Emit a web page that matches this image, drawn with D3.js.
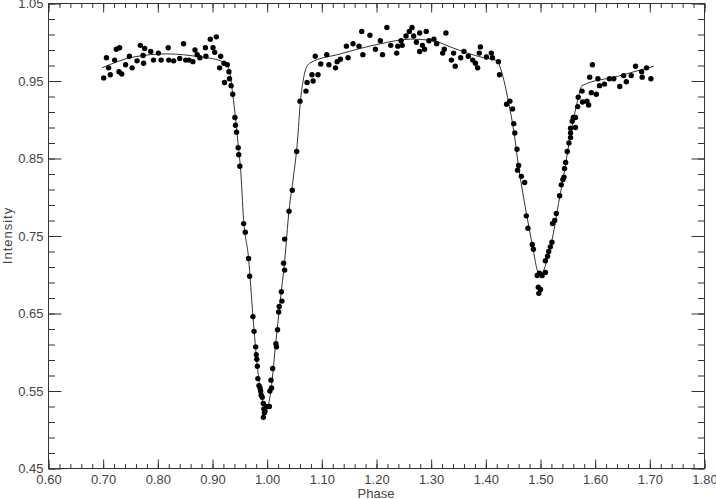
<!DOCTYPE html>
<html>
<head>
<meta charset="utf-8">
<script src="https://cdn.jsdelivr.net/npm/d3@7"></script>
<style>
  body { margin: 0; background: #fff; }
  svg text { font-family: "Liberation Sans", Arial, sans-serif; fill: #444; }
</style>
</head>
<body>
<svg id="chart" width="716" height="499"></svg>
<script>
/* observed light curve: phase and normalised intensity */
var phase = [
  0.701, 0.706, 0.710, 0.713, 0.721, 0.724, 0.730, 0.729, 0.734, 0.741,
  0.748, 0.753, 0.762, 0.768, 0.773, 0.776, 0.774, 0.787, 0.792, 0.801,
  0.806, 0.819, 0.820, 0.829, 0.840, 0.847, 0.851, 0.857, 0.864, 0.868,
  0.872, 0.877, 0.887, 0.888, 0.896, 0.907, 0.901, 0.904, 0.915, 0.913,
  0.921, 0.927, 0.930, 0.922, 0.931, 0.934, 0.937,
  0.941, 0.942, 0.944, 0.947, 0.948, 0.950, 0.957, 0.960, 0.966, 0.968,
  0.974, 0.976, 0.979, 0.980, 0.981, 0.982, 0.983, 0.985, 0.987, 0.988,
  0.989, 0.991, 0.993, 0.994, 0.996, 0.995, 0.993, 1.000, 1.004, 1.005,
  1.007, 1.008, 1.010,
  1.016, 1.017, 1.019, 1.021, 1.022, 1.027, 1.026, 1.030, 1.032, 1.032,
  1.040, 1.046, 1.054, 1.060, 1.071, 1.073, 1.084, 1.082, 1.093,
  1.088, 1.098, 1.109, 1.113, 1.125, 1.128, 1.134, 1.148, 1.145, 1.157,
  1.168, 1.175, 1.173, 1.188, 1.198, 1.207, 1.211, 1.219, 1.226, 1.237,
  1.239, 1.245, 1.247, 1.254, 1.260, 1.265, 1.268, 1.273, 1.279, 1.291,
  1.284, 1.288, 1.279, 1.296, 1.305, 1.310, 1.327, 1.324, 1.321, 1.341,
  1.337, 1.344, 1.354, 1.360, 1.368, 1.376, 1.381, 1.385, 1.390, 1.388,
  1.401, 1.410, 1.412, 1.423, 1.425,
  1.438, 1.444, 1.449, 1.451, 1.453, 1.457, 1.460, 1.458, 1.465, 1.471,
  1.474, 1.477, 1.485, 1.487, 1.494, 1.498, 1.503, 1.496, 1.500, 1.497,
  1.509, 1.509, 1.513, 1.515, 1.518, 1.521, 1.522, 1.526, 1.529, 1.535,
  1.538, 1.541, 1.543, 1.544, 1.546, 1.549, 1.552, 1.555, 1.555, 1.555,
  1.558, 1.560, 1.564, 1.568, 1.564,
  1.569, 1.576, 1.577, 1.585, 1.588, 1.593, 1.602, 1.590, 1.595, 1.605,
  1.608, 1.617, 1.626, 1.634, 1.645, 1.652, 1.657, 1.666, 1.674, 1.685,
  1.686, 1.694, 1.702
];
var intensity = [
  0.954, 0.980, 0.967, 0.958, 0.977, 0.991, 0.993, 0.962, 0.959, 0.971,
  0.982, 0.967, 0.976, 0.996, 0.983, 0.992, 0.973, 0.988, 0.977, 0.986,
  0.977, 0.993, 0.977, 0.976, 0.979, 0.998, 0.977, 0.977, 0.975, 0.990,
  0.984, 0.980, 0.993, 0.982, 1.004, 1.007, 0.993, 0.987, 0.982, 0.967,
  0.973, 0.971, 0.962, 0.948, 0.953, 0.944, 0.933,
  0.903, 0.893, 0.884, 0.864, 0.855, 0.840, 0.766, 0.755, 0.721, 0.698,
  0.646, 0.627, 0.607, 0.597, 0.591, 0.582, 0.566, 0.557, 0.554, 0.550,
  0.545, 0.542, 0.534, 0.527, 0.524, 0.522, 0.516, 0.530, 0.530, 0.550,
  0.564, 0.554, 0.579,
  0.611, 0.607, 0.629, 0.652, 0.659, 0.666, 0.678, 0.715, 0.706, 0.746,
  0.782, 0.809, 0.859, 0.924, 0.937, 0.948, 0.950, 0.958, 0.958,
  0.982, 0.972, 0.984, 0.971, 0.967, 0.975, 0.978, 0.980, 0.995, 0.998,
  0.995, 0.984, 1.014, 1.009, 0.991, 1.002, 0.984, 1.019, 0.996, 0.986,
  0.995, 1.002, 0.996, 1.008, 1.014, 1.019, 1.008, 1.000, 1.012, 1.014,
  0.996, 0.991, 0.988, 1.002, 1.004, 0.998, 1.012, 0.991, 0.986, 0.986,
  0.977, 0.969, 0.980, 0.988, 0.982, 0.977, 0.973, 0.967, 0.994, 0.986,
  0.981, 0.986, 0.980, 0.975, 0.958,
  0.920, 0.924, 0.914, 0.895, 0.883, 0.862, 0.841, 0.835, 0.827, 0.819,
  0.776, 0.760, 0.739, 0.733, 0.699, 0.702, 0.699, 0.684, 0.681, 0.676,
  0.703, 0.718, 0.724, 0.730, 0.736, 0.742, 0.766, 0.770, 0.779, 0.802,
  0.816, 0.823, 0.826, 0.837, 0.845, 0.859, 0.870, 0.877, 0.883, 0.889,
  0.898, 0.903, 0.903, 0.917, 0.890,
  0.929, 0.937, 0.923, 0.924, 0.919, 0.935, 0.933, 0.955, 0.971, 0.953,
  0.944, 0.946, 0.953, 0.953, 0.943, 0.957, 0.949, 0.957, 0.969, 0.962,
  0.955, 0.967, 0.953
];

/* fitted model curve */
var modelPhase = [
  0.698, 0.756, 0.817, 0.878, 0.915, 0.927, 0.933, 0.937, 0.942, 0.948,
  0.951, 0.957, 0.966, 0.974, 0.982, 0.989, 0.993, 0.997, 1.001, 1.006,
  1.015, 1.024, 1.032, 1.040, 1.048, 1.055, 1.061, 1.066, 1.070, 1.078,
  1.134, 1.207, 1.262, 1.304, 1.335, 1.366, 1.396, 1.421, 1.426, 1.433,
  1.442, 1.451, 1.460, 1.469, 1.479, 1.487, 1.494, 1.500, 1.506, 1.515,
  1.524, 1.533, 1.543, 1.552, 1.561, 1.568, 1.576, 1.641, 1.707
];
var modelIntensity = [
  0.967, 0.981, 0.985, 0.981, 0.976, 0.971, 0.955, 0.933, 0.903, 0.860,
  0.840, 0.770, 0.721, 0.646, 0.582, 0.545, 0.534, 0.527, 0.530, 0.546,
  0.607, 0.667, 0.718, 0.783, 0.826, 0.869, 0.925, 0.951, 0.964, 0.973,
  0.985, 0.998, 1.004, 1.002, 0.994, 0.986, 0.980, 0.976, 0.968, 0.951,
  0.921, 0.886, 0.839, 0.800, 0.761, 0.731, 0.706, 0.699, 0.706, 0.727,
  0.755, 0.792, 0.830, 0.869, 0.903, 0.925, 0.944, 0.956, 0.969
];

var xTicks = [0.60, 0.70, 0.80, 0.90, 1.00, 1.10, 1.20, 1.30, 1.40, 1.50, 1.60, 1.70, 1.80];
var yTicks = [0.45, 0.55, 0.65, 0.75, 0.85, 0.95, 1.05];

var svg = d3.select("#chart");
var margin = {left: 48, top: 3, right: 12, bottom: 31};
var width = 716 - margin.left - margin.right;
var height = 499 - margin.top - margin.bottom;

var g = svg.append("g")
    .attr("transform", "translate(" + (margin.left + 0.5) + "," + (margin.top + 0.5) + ")");

var x = d3.scaleLinear().domain([0.6, 1.8]).range([0, width]);
var y = d3.scaleLinear().domain([0.45, 1.05]).range([height, 0]);

var xMinor = d3.range(0.6, 1.8001, 0.02);
var yMinor = d3.range(0.45, 1.0501, 0.02);
var fmt = d3.format(".2f");

// IDL style: ticks pointing inwards on all four sides
function tidy(sel) {
    sel.select(".domain").remove();
    sel.selectAll("line").attr("stroke", "#333");
}

g.append("g").attr("transform", "translate(0," + height + ")")
    .call(d3.axisBottom(x).tickValues(xMinor).tickSize(-4.5).tickFormat(""))
    .call(tidy);
g.append("g").attr("transform", "translate(0," + height + ")")
    .call(d3.axisBottom(x).tickValues(xTicks).tickSize(-9).tickPadding(6).tickFormat(fmt))
    .call(tidy)
    .selectAll("text").style("font-size", "13px").attr("fill", "#444");
g.append("g")
    .call(d3.axisTop(x).tickValues(xMinor).tickSize(-4.5).tickFormat(""))
    .call(tidy);
g.append("g")
    .call(d3.axisTop(x).tickValues(xTicks).tickSize(-9).tickFormat(""))
    .call(tidy);

g.append("g")
    .call(d3.axisLeft(y).tickValues(yMinor).tickSize(-6.5).tickFormat(""))
    .call(tidy);
g.append("g")
    .call(d3.axisLeft(y).tickValues(yTicks).tickSize(-13).tickPadding(5).tickFormat(fmt))
    .call(tidy)
    .selectAll("text").style("font-size", "13px").attr("fill", "#444");
g.append("g").attr("transform", "translate(" + width + ",0)")
    .call(d3.axisRight(y).tickValues(yMinor).tickSize(-6.5).tickFormat(""))
    .call(tidy);
g.append("g").attr("transform", "translate(" + width + ",0)")
    .call(d3.axisRight(y).tickValues(yTicks).tickSize(-13).tickFormat(""))
    .call(tidy);

// frame
g.append("rect")
    .attr("width", width)
    .attr("height", height)
    .attr("fill", "none")
    .attr("stroke", "#333");

// model
var line = d3.line()
    .x(function(d, i) { return x(modelPhase[i]); })
    .y(function(d, i) { return y(modelIntensity[i]); })
    .curve(d3.curveMonotoneX);
g.append("path")
    .datum(modelPhase)
    .attr("d", line)
    .attr("fill", "none")
    .attr("stroke", "#333")
    .attr("stroke-width", 1);

// observations
g.append("g").selectAll("circle")
    .data(phase)
    .enter().append("circle")
    .attr("cx", function(d) { return x(d); })
    .attr("cy", function(d, i) { return y(intensity[i]); })
    .attr("r", 2.7)
    .attr("fill", "#000");

// axis titles
svg.append("text")
    .attr("x", margin.left + width / 2)
    .attr("y", 498)
    .attr("text-anchor", "middle")
    .style("font-size", "13px")
    .text("Phase");
svg.append("text")
    .attr("transform", "translate(12," + (margin.top + height / 2) + ") rotate(-90)")
    .attr("text-anchor", "middle")
    .style("font-size", "13px")
    .style("letter-spacing", "1px")
    .text("Intensity");
</script>
</body>
</html>
